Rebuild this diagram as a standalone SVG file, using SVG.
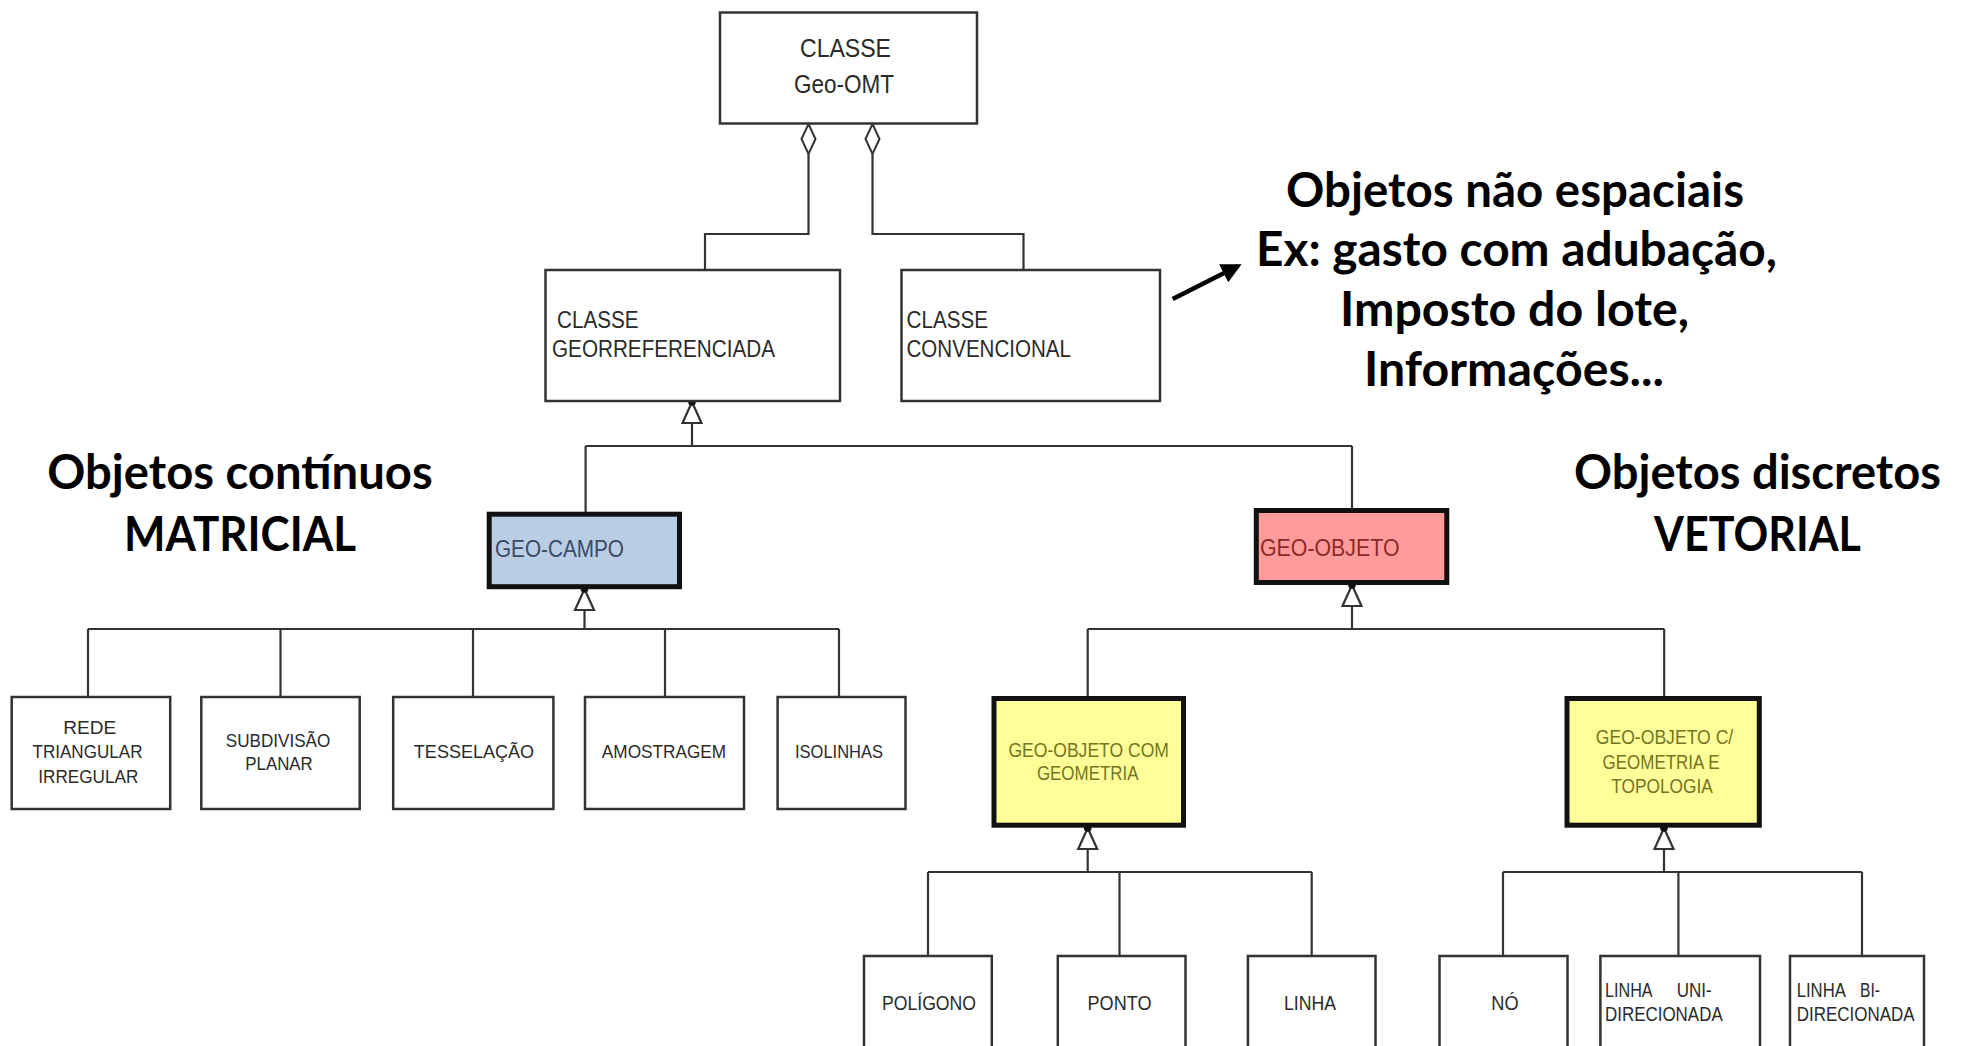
<svg xmlns="http://www.w3.org/2000/svg" xmlns:xlink="http://www.w3.org/1999/xlink" width="1962" height="1046" viewBox="0 0 1962 1046">
<style>
.box{fill:#fff;stroke:#333;stroke-width:2.5}
.bold{stroke:#111;stroke-width:5}
.lbl{font-family:"Liberation Sans",Arial,sans-serif;fill:#2a2a2a}
.big{font-family:Lato,"Liberation Sans",sans-serif;font-weight:bold;font-size:47px;fill:#000;text-anchor:middle}
.c{text-anchor:middle}
.ln{fill:none;stroke:#333;stroke-width:2.2}
</style>
<defs>
<g id="gen"><polygon points="0,0 -9.5,21 9.5,21" fill="#fff" stroke="#333" stroke-width="2.2"/><circle cx="0" cy="0" r="3.8" fill="#111"/></g>
<polygon id="dia" points="0,0 7,15 0,30 -7,15" fill="#fff" stroke="#333" stroke-width="2"/>
<marker id="ah" viewBox="0 0 10 10" refX="8" refY="5" markerWidth="4.5" markerHeight="4.5" orient="auto" markerUnits="strokeWidth"><path d="M0,0 L10,5 L0,10 z" fill="#000"/></marker>
</defs>

<g id="connectors">
<path class="ln" d="M808.5 154 V234 H705 V270"/>
<path class="ln" d="M872.5 154 V234 H1023.5 V270"/>
<use xlink:href="#dia" x="808.5" y="124"/>
<use xlink:href="#dia" x="872.5" y="124"/>
<path class="ln" d="M692 423 V446 M585.6 446 H1352 M585.6 446 V512 M1352 446 V509"/>
<use xlink:href="#gen" x="692" y="402"/>
<path class="ln" d="M584.5 610 V629 M88 629 H839 M88 629 V697 M280.5 629 V697 M473 629 V697 M665 629 V697 M839 629 V697"/>
<use xlink:href="#gen" x="584.5" y="589"/>
<path class="ln" d="M1352 606 V629 M1087.7 629 H1664.2 M1087.7 629 V696 M1664.2 629 V696"/>
<use xlink:href="#gen" x="1352" y="585"/>
<path class="ln" d="M1087.7 849 V872 M928 872 H1311.7 M928 872 V956 M1119.5 872 V956 M1311.7 872 V956"/>
<use xlink:href="#gen" x="1087.7" y="828"/>
<path class="ln" d="M1664 849 V872 M1503 872 H1862 M1503 872 V956 M1678.4 872 V956 M1862 872 V956"/>
<use xlink:href="#gen" x="1664" y="828"/>
<line x1="1172.7" y1="299" x2="1238" y2="266" stroke="#000" stroke-width="4.5" marker-end="url(#ah)"/>
</g>

<g id="n-geoomt">
<rect class="box" x="720" y="12.5" width="257" height="111"/>
<text class="lbl c" x="845.5" y="57" font-size="25" textLength="91" lengthAdjust="spacingAndGlyphs">CLASSE</text>
<text class="lbl c" x="844" y="93" font-size="25" textLength="100" lengthAdjust="spacingAndGlyphs">Geo-OMT</text>
</g>

<g id="n-georref">
<rect class="box" x="545.5" y="270" width="294.5" height="131"/>
<text class="lbl" x="557" y="328" font-size="23" textLength="81.6" lengthAdjust="spacingAndGlyphs">CLASSE</text>
<text class="lbl" x="552" y="357" font-size="23" textLength="223" lengthAdjust="spacingAndGlyphs">GEORREFERENCIADA</text>
</g>

<g id="n-conv">
<rect class="box" x="901.5" y="270" width="258.5" height="131"/>
<text class="lbl" x="906.5" y="328" font-size="23" textLength="81.5" lengthAdjust="spacingAndGlyphs">CLASSE</text>
<text class="lbl" x="906.5" y="357" font-size="23" textLength="164.5" lengthAdjust="spacingAndGlyphs">CONVENCIONAL</text>
</g>

<g id="t-naoespaciais">
<text class="big" x="1515" y="207" textLength="458" lengthAdjust="spacingAndGlyphs">Objetos não espaciais</text>
<text class="big" x="1516.5" y="266" textLength="521" lengthAdjust="spacingAndGlyphs">Ex: gasto com adubação,</text>
<text class="big" x="1514.5" y="326" textLength="349" lengthAdjust="spacingAndGlyphs">Imposto do lote,</text>
<text class="big" x="1514" y="386" textLength="300" lengthAdjust="spacingAndGlyphs">Informações...</text>
</g>

<g id="t-continuos">
<text class="big" x="240" y="489" textLength="385.5" lengthAdjust="spacingAndGlyphs">Objetos contínuos</text>
<text class="big" x="240" y="551" textLength="232" lengthAdjust="spacingAndGlyphs">MATRICIAL</text>
</g>

<g id="t-discretos">
<text class="big" x="1757.5" y="489" textLength="367" lengthAdjust="spacingAndGlyphs">Objetos discretos</text>
<text class="big" x="1757.5" y="551" textLength="207" lengthAdjust="spacingAndGlyphs">VETORIAL</text>
</g>

<g id="n-geocampo">
<rect class="bold" x="489.2" y="514.2" width="190.3" height="72.5" fill="#B9CDE5"/>
<text class="lbl" x="495" y="556.5" font-size="23" style="fill:#3B4A66" textLength="129" lengthAdjust="spacingAndGlyphs">GEO-CAMPO</text>
</g>

<g id="n-geoobjeto">
<rect class="bold" x="1256.3" y="510.5" width="190.5" height="72" fill="#FF9B9B"/>
<text class="lbl" x="1260" y="556" font-size="23" style="fill:#8C2A2A" textLength="139.5" lengthAdjust="spacingAndGlyphs">GEO-OBJETO</text>
</g>

<g id="n-rede">
<rect class="box" x="11.7" y="697" width="158.5" height="112"/>
<text class="lbl c" x="89.8" y="734" font-size="19" textLength="53" lengthAdjust="spacingAndGlyphs">REDE</text>
<text class="lbl c" x="87.5" y="758" font-size="19" textLength="110" lengthAdjust="spacingAndGlyphs">TRIANGULAR</text>
<text class="lbl c" x="88.3" y="783" font-size="19" textLength="100" lengthAdjust="spacingAndGlyphs">IRREGULAR</text>
</g>

<g id="n-subdivisao">
<rect class="box" x="201.3" y="697" width="158.4" height="112"/>
<text class="lbl c" x="278" y="746.5" font-size="19" textLength="104.5" lengthAdjust="spacingAndGlyphs">SUBDIVISÃO</text>
<text class="lbl c" x="279" y="770" font-size="19" textLength="67.5" lengthAdjust="spacingAndGlyphs">PLANAR</text>
</g>

<g id="n-tesselacao">
<rect class="box" x="393.2" y="697" width="160.2" height="112"/>
<text class="lbl c" x="474" y="758" font-size="19" textLength="120.3" lengthAdjust="spacingAndGlyphs">TESSELAÇÃO</text>
</g>

<g id="n-amostragem">
<rect class="box" x="585" y="697" width="159" height="112"/>
<text class="lbl c" x="664" y="758" font-size="19" textLength="124.4" lengthAdjust="spacingAndGlyphs">AMOSTRAGEM</text>
</g>

<g id="n-isolinhas">
<rect class="box" x="777.6" y="697" width="127.9" height="112"/>
<text class="lbl c" x="839" y="758" font-size="19" textLength="88" lengthAdjust="spacingAndGlyphs">ISOLINHAS</text>
</g>

<g id="n-geometria">
<rect class="bold" x="994" y="698.5" width="189.5" height="126.7" fill="#FFFF99"/>
<text class="lbl c" x="1088.7" y="757" font-size="20" style="fill:#75751F" textLength="160.6" lengthAdjust="spacingAndGlyphs">GEO-OBJETO COM</text>
<text class="lbl c" x="1087.7" y="780" font-size="20" style="fill:#75751F" textLength="101.6" lengthAdjust="spacingAndGlyphs">GEOMETRIA</text>
</g>

<g id="n-topologia">
<rect class="bold" x="1567" y="698.5" width="192.3" height="126.7" fill="#FFFF99"/>
<text class="lbl c" x="1664.5" y="744" font-size="20" style="fill:#75751F" textLength="137.5" lengthAdjust="spacingAndGlyphs">GEO-OBJETO C/</text>
<text class="lbl c" x="1661" y="769" font-size="20" style="fill:#75751F" textLength="117" lengthAdjust="spacingAndGlyphs">GEOMETRIA E</text>
<text class="lbl c" x="1662" y="793" font-size="20" style="fill:#75751F" textLength="101.6" lengthAdjust="spacingAndGlyphs">TOPOLOGIA</text>
</g>

<g id="n-poligono">
<rect class="box" x="864" y="956" width="127.8" height="110"/>
<text class="lbl c" x="929" y="1010" font-size="20" textLength="94" lengthAdjust="spacingAndGlyphs">POLÍGONO</text>
</g>

<g id="n-ponto">
<rect class="box" x="1057.8" y="956" width="127.7" height="110"/>
<text class="lbl c" x="1119.5" y="1010" font-size="20" textLength="64" lengthAdjust="spacingAndGlyphs">PONTO</text>
</g>

<g id="n-linha">
<rect class="box" x="1247.9" y="956" width="127.6" height="110"/>
<text class="lbl c" x="1310" y="1010" font-size="20" textLength="52" lengthAdjust="spacingAndGlyphs">LINHA</text>
</g>

<g id="n-no">
<rect class="box" x="1439.5" y="956" width="128" height="110"/>
<text class="lbl c" x="1505" y="1010" font-size="20" textLength="27.3" lengthAdjust="spacingAndGlyphs">NÓ</text>
</g>

<g id="n-linhauni">
<rect class="box" x="1600.4" y="956" width="159.6" height="110"/>
<text class="lbl" y="997" font-size="20"><tspan x="1605" textLength="46.7" lengthAdjust="spacingAndGlyphs">LINHA</tspan> <tspan x="1676.7" textLength="35" lengthAdjust="spacingAndGlyphs">UNI-</tspan></text>
<text class="lbl" x="1605" y="1021" font-size="20" textLength="117.7" lengthAdjust="spacingAndGlyphs">DIRECIONADA</text>
</g>

<g id="n-linhabi">
<rect class="box" x="1790" y="956" width="134" height="110"/>
<text class="lbl" y="997" font-size="20"><tspan x="1796.7" textLength="48.3" lengthAdjust="spacingAndGlyphs">LINHA</tspan> <tspan x="1860" textLength="20" lengthAdjust="spacingAndGlyphs">BI-</tspan></text>
<text class="lbl" x="1796.7" y="1021" font-size="20" textLength="118" lengthAdjust="spacingAndGlyphs">DIRECIONADA</text>
</g>
</svg>
